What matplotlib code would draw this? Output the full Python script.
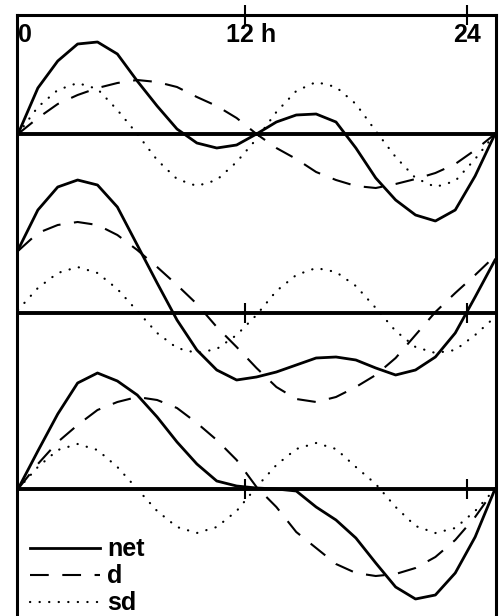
"""
Diurnal / semidiurnal / net curves, three stacked panels
"""
import matplotlib
matplotlib.use('Agg')
import matplotlib.pyplot as plt
import numpy as np

# hours of the day
hours = list(range(25))

# values (relative units, up is positive)
# panel 1 (top)
p1_net = [0, 46, 73, 90, 92, 80, 53, 28, 5, -9, -14, -11, 0, 12, 19, 20, 12, -14, -44, -66, -81, -87, -76, -42, 0]
p1_d = [0, 16, 30, 39, 46, 51, 54, 52, 47, 37, 28, 16, 0, -14, -25, -38, -46, -52, -54, -50, -45, -39, -30, -16, 0]
p1_sd = [0, 27, 44, 51, 45, 24, 0, -26, -45, -52, -46, -28, -5, 22, 43, 52, 47, 30, 3, -23, -44, -53, -47, -25, 0]
# panel 2 (middle)
p2_net = [63, 103, 126, 133, 128, 106, 68, 30, -7, -37, -57, -67, -64, -59, -52, -45, -44, -47, -55, -62, -57, -44, -20, 16, 53]
p2_d = [62, 80, 88, 91, 88, 78, 63, 46, 28, 9, -14, -34, -55, -74, -86, -89, -84, -74, -62, -45, -22, 1, 20, 38, 57]
p2_sd = [3, 25, 40, 46, 40, 24, 2, -20, -35, -40, -36, -22, -2, 22, 38, 45, 41, 27, 5, -18, -34, -40, -37, -22, -4]
# panel 3 (bottom)
p3_net = [0, 38, 75, 106, 116, 108, 94, 72, 47, 25, 8, 3, 1, 0, -2, -18, -31, -49, -74, -98, -110, -106, -84, -48, 0]
p3_d = [0, 25, 47, 64, 79, 87, 92, 89, 81, 66, 49, 29, 2, -18, -43, -59, -75, -84, -87, -85, -79, -68, -51, -28, 0]
p3_sd = [0, 22, 39, 45, 39, 22, 0, -22, -38, -44, -38, -22, 2, 24, 40, 46, 40, 22, 5, -18, -37, -44, -39, -22, 0]

series_labels = ['net', 'd', 'sd']
tick_labels = ['0', '12 h', '24']

# layout
panel_base = [0, -179, -355]
tick_pos = [11.42, 22.6]
label_pos = [0.0, 11.75, 22.6]
label_ha = ['left', 'center', 'center']

plt.rcParams['font.family'] = ['Liberation Sans', 'DejaVu Sans']

fig = plt.figure(figsize=(5.02, 6.16), dpi=100)
ax = fig.add_axes([17 / 502, 0, 479 / 502, 601 / 616])

styles = [dict(color='black', lw=2.0, ls='-'),
          dict(color='black', lw=1.5, ls=(0, (9, 6.5))),
          dict(color='black', lw=1.6, ls=(0, (0.1, 4.2)), dash_capstyle='round')]

panels = [(p1_net, p1_d, p1_sd), (p2_net, p2_d, p2_sd), (p3_net, p3_d, p3_sd)]
handles = []
for k, (net, d, sd) in enumerate(panels):
    base = panel_base[k]
    ax.axhline(base, color='black', lw=2.8, zorder=1)
    for j, vals in enumerate([net, d, sd]):
        ln, = ax.plot(hours, np.array(vals) + base, **styles[j], zorder=2,
                      solid_joinstyle='round')
        if k == 0:
            handles.append(ln)
    if k > 0:
        ax.vlines(tick_pos, base - 10, base + 10, color='black', lw=1.5)

ax.set_xlim(-0.05, 24.05)
ax.set_ylim(-482, 119)

for side in ['top', 'left', 'right']:
    ax.spines[side].set_linewidth(2.2)
ax.spines['bottom'].set_visible(False)

ax.set_xticks(tick_pos)
ax.xaxis.set_ticks_position('top')
ax.tick_params(axis='x', direction='inout', length=14, width=1.5, labeltop=False)
ax.set_yticks([])

for lab, xp, ha in zip(tick_labels, label_pos, label_ha):
    ax.text(xp, 0.967, lab, transform=ax.get_xaxis_transform(), ha=ha, va='center',
            fontsize=18, fontweight='bold')

ax.legend(handles, series_labels, loc='upper left', bbox_to_anchor=(13 / 479, 0.131),
          frameon=False, borderpad=0, borderaxespad=0, handlelength=2.8,
          handletextpad=0.3, labelspacing=0.12, handleheight=0.7,
          prop={'weight': 'bold', 'size': 18})

fig.savefig('out.png', dpi=100)
